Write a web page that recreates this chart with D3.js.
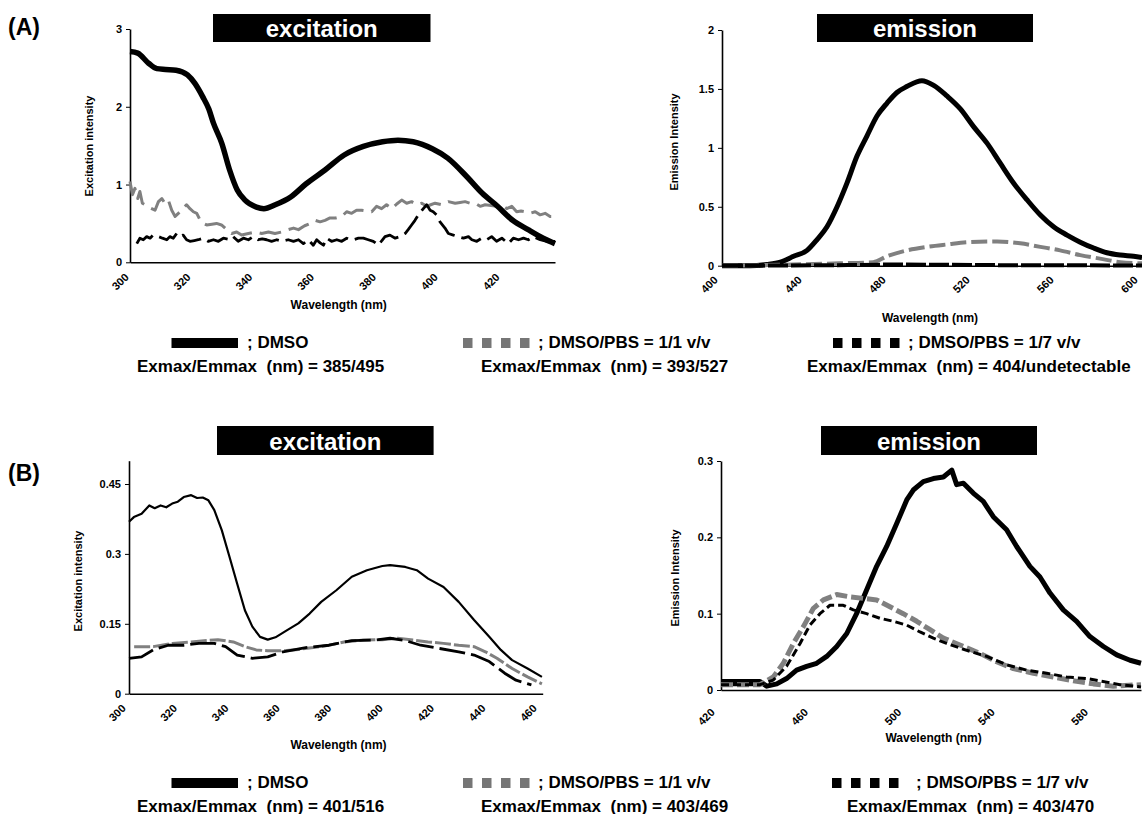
<!DOCTYPE html>
<html>
<head>
<meta charset="utf-8">
<script src="https://cdn.jsdelivr.net/npm/d3@7"></script>
<style>
  body { margin: 0; background: #fff; }
  svg { display: block; font-family: "Liberation Sans", Arial, sans-serif; font-weight: bold; }
</style>
</head>
<body>
<div id="chart"></div>
<script>
// values: [wavelength (nm), intensity]

// (A) excitation
const exA_dmso = [[300,2.71],[302.5,2.69],[306,2.56],[308.7,2.49],[311.5,2.48],[314.9,2.47],[318.6,2.41],[321,2.30],[323.5,2.13],[325.5,1.97],[327,1.79],[329.7,1.53],[332.2,1.19],[334.7,0.93],[337.2,0.80],[340.9,0.71],[343.3,0.69],[347,0.74],[352,0.84],[357,1.01],[363.2,1.19],[369.3,1.38],[375.5,1.49],[381.7,1.55],[386.7,1.57],[391.6,1.55],[397.8,1.46],[402.8,1.34],[409,1.10],[413.9,0.89],[418.9,0.72],[423.8,0.54],[428.8,0.42],[433.7,0.31],[437.5,0.24]];
const exA_pbs11 = [[300,1.04],[300.8,0.87],[301.6,0.95],[302.5,0.82],[303.2,0.91],[304,0.76],[304.9,0.74],[306.5,0.70],[308.1,0.67],[309.2,0.78],[310.3,0.82],[311.3,0.76],[312.4,0.80],[313.5,0.67],[314.6,0.59],[316.5,0.66],[318.3,0.74],[319.4,0.69],[320.5,0.65],[321.6,0.63],[322.7,0.54],[323.7,0.50],[324.8,0.48],[326.5,0.49],[328,0.50],[329.6,0.48],[331.3,0.42],[332.9,0.37],[334.5,0.39],[336.1,0.35],[338.3,0.37],[340.5,0.39],[342.6,0.37],[344.8,0.39],[346.9,0.37],[349.1,0.39],[351.2,0.42],[352.9,0.44],[354.5,0.42],[356.5,0.47],[358.3,0.50],[359.9,0.54],[361.5,0.52],[363.1,0.54],[364.7,0.57],[366.5,0.57],[368.5,0.59],[370.1,0.65],[371.7,0.63],[373.3,0.67],[374.9,0.67],[376.5,0.66],[378.2,0.65],[379.8,0.72],[381.4,0.69],[383,0.74],[384.7,0.69],[386.3,0.75],[387.9,0.80],[389.5,0.76],[391.1,0.78],[392.8,0.74],[394.4,0.76],[396,0.72],[397.3,0.74],[398.7,0.76],[400.8,0.74],[403,0.78],[405.2,0.76],[406.8,0.77],[408.4,0.78],[410,0.76],[411.7,0.76],[413.3,0.72],[414.9,0.74],[416.8,0.73],[418.6,0.72],[420.2,0.74],[421.9,0.69],[423.5,0.72],[425.1,0.65],[426.5,0.66],[427.8,0.65],[429.4,0.63],[431.1,0.65],[432.7,0.61],[434.3,0.63],[435.9,0.59],[437.5,0.59]];
const exA_pbs17 = [[302.2,0.24],[303.2,0.31],[304.3,0.29],[305.4,0.33],[306.5,0.31],[307.5,0.35],[309.2,0.33],[310.5,0.31],[311.9,0.29],[312.9,0.33],[314,0.31],[315.1,0.37],[316.2,0.33],[317.2,0.35],[318.3,0.29],[319.4,0.27],[320.8,0.28],[322.1,0.29],[323.7,0.31],[325.3,0.27],[327,0.29],[328.6,0.27],[330.2,0.31],[332.4,0.29],[333.4,0.33],[335,0.27],[336.7,0.31],[338.3,0.29],[339.9,0.33],[341.5,0.29],[342.8,0.30],[344.2,0.29],[345.8,0.27],[347.5,0.29],[349.1,0.27],[351.2,0.29],[352.9,0.27],[354.5,0.29],[356.1,0.24],[357.7,0.29],[359.3,0.22],[360.4,0.29],[361.5,0.25],[362.6,0.22],[363.6,0.31],[365.2,0.27],[366.9,0.29],[368.5,0.27],[370.1,0.31],[371.2,0.29],[372.3,0.29],[373.9,0.31],[375.5,0.31],[377.1,0.29],[378.7,0.27],[380.4,0.22],[381.5,0.28],[382.5,0.33],[384.1,0.35],[385.8,0.31],[387.4,0.33],[389,0.37],[390,0.42],[391.1,0.48],[392.2,0.54],[393.3,0.61],[394.9,0.69],[396,0.74],[397.1,0.67],[398.1,0.65],[399.2,0.61],[400.3,0.52],[401.9,0.44],[403,0.37],[404.6,0.35],[406.2,0.33],[407.9,0.31],[409.5,0.33],[410.6,0.29],[412.2,0.27],[413.8,0.31],[415.4,0.29],[417,0.33],[418.6,0.27],[420.3,0.31],[422.4,0.24],[424,0.31],[425.7,0.29],[427.3,0.31],[428.9,0.29],[430.5,0.33],[432.7,0.29],[434.8,0.27],[437.5,0.27]];

// (A) emission
const emA_dmso = [[400,0],[413.5,0],[421.4,0.01],[427.8,0.03],[434.1,0.08],[440.5,0.13],[445.2,0.22],[450,0.33],[454.8,0.50],[459.5,0.70],[464.3,0.93],[469,1.10],[473.8,1.27],[478.6,1.38],[483.3,1.47],[488,1.52],[495.2,1.57],[500.8,1.53],[507.1,1.44],[513.5,1.33],[519.8,1.18],[526.2,1.04],[532.5,0.87],[538.9,0.70],[545.2,0.56],[551.6,0.43],[557.9,0.33],[564.3,0.26],[570.6,0.20],[577,0.15],[583.3,0.11],[589.7,0.09],[596,0.08],[600,0.07]];
const emA_pbs11 = [[400,0],[456,0.02],[472,0.03],[478.6,0.08],[488,0.13],[497.6,0.16],[507,0.18],[518,0.20],[531,0.205],[542,0.19],[551.6,0.16],[561,0.13],[570.6,0.09],[580,0.06],[589.7,0.03],[600,0.02]];
const emA_pbs17 = [[400,0],[460,0.005],[480,0.01],[500,0.008],[540,0.004],[600,0.002]];

// (B) excitation
const exB_dmso = [[300,0.369],[301.9,0.379],[304.9,0.386],[307.9,0.404],[310,0.398],[312.3,0.404],[314.5,0.400],[316.8,0.408],[319,0.412],[321.3,0.422],[324.2,0.426],[326.5,0.420],[328.7,0.421],[330.9,0.415],[333.2,0.394],[336.1,0.351],[339.1,0.294],[342.1,0.236],[345.1,0.179],[348,0.144],[351,0.122],[354,0.116],[357,0.121],[361.4,0.136],[365.9,0.151],[370.3,0.172],[374.8,0.197],[380.7,0.222],[386.7,0.251],[392.6,0.265],[398.6,0.274],[401.6,0.276],[407.5,0.272],[412,0.265],[416.4,0.247],[422.4,0.229],[428.3,0.197],[434.3,0.158],[440.2,0.122],[444.7,0.094],[449.1,0.072],[455.1,0.054],[460.7,0.036]];
const exB_pbs11 = [[302,0.101],[309.4,0.101],[316.8,0.108],[324.2,0.111],[330.2,0.114],[334.6,0.116],[340.6,0.111],[345.1,0.101],[349.5,0.094],[354,0.092],[359.9,0.092],[365.9,0.095],[371.8,0.099],[377.8,0.104],[383.7,0.111],[391.2,0.115],[398.6,0.116],[404.5,0.119],[410.5,0.115],[416.4,0.111],[422.4,0.108],[428.3,0.104],[434.3,0.101],[438.7,0.090],[443.2,0.076],[449.1,0.054],[455.1,0.036],[460.7,0.021]];
const exB_pbs17 = [[300,0.076],[304.9,0.079],[309.4,0.094],[315.3,0.104],[321.3,0.104],[327.2,0.108],[333.2,0.108],[337.6,0.101],[342.1,0.083],[348,0.076],[354,0.079],[359.9,0.090],[368.8,0.099],[377.8,0.104],[386.7,0.114],[395.6,0.115],[401.6,0.119],[407.5,0.114],[413.5,0.104],[420.9,0.097],[428.3,0.090],[434.3,0.083],[440.2,0.069],[446.2,0.044],[450.6,0.029],[456.6,0.019]];

// (B) emission
const emB_dmso = [[420,0.011],[436.7,0.011],[439.6,0.005],[443.9,0.008],[448.1,0.015],[452.4,0.026],[456.7,0.031],[461,0.035],[465.3,0.044],[469.6,0.057],[473.9,0.074],[478.1,0.100],[482.4,0.131],[486.7,0.162],[491,0.188],[495.3,0.218],[499.6,0.249],[502.4,0.262],[506.7,0.273],[511,0.277],[515.3,0.279],[518.9,0.288],[521,0.269],[523.9,0.271],[528.1,0.258],[532.4,0.247],[536.7,0.227],[542.4,0.210],[546.7,0.188],[552.4,0.162],[556.7,0.148],[561,0.127],[566.7,0.105],[572.4,0.090],[578.1,0.070],[583.9,0.057],[589.6,0.046],[595.3,0.039],[600,0.035]];
const emB_pbs11 = [[420,0.007],[436.7,0.007],[442.4,0.017],[446.7,0.035],[451,0.061],[455.3,0.083],[459.6,0.107],[463.9,0.118],[469.6,0.125],[475.3,0.122],[481,0.120],[486.7,0.118],[492.4,0.109],[498.1,0.100],[503.9,0.090],[509.6,0.079],[515.3,0.068],[522.4,0.059],[531,0.048],[538.1,0.037],[545.3,0.028],[553.9,0.022],[562.4,0.017],[571,0.012],[579.6,0.008],[588.1,0.005],[600,0.007]];
const emB_pbs17 = [[420,0.007],[436.7,0.007],[442.4,0.013],[448.1,0.031],[453.9,0.061],[458.1,0.085],[462.4,0.100],[466.7,0.111],[472.4,0.111],[476.7,0.105],[482.4,0.100],[488.1,0.094],[493.9,0.090],[499.6,0.085],[505.3,0.076],[511,0.068],[516.7,0.061],[525.3,0.052],[533.9,0.044],[542.4,0.033],[551,0.026],[559.6,0.022],[568.1,0.017],[576.7,0.015],[582.4,0.012],[591,0.007],[600,0.004]];

// tick labels
const exA_xTicks = [300, 320, 340, 360, 380, 400, 420];
const exA_yTicks = [0, 1, 2, 3];
const emA_xTicks = [400, 440, 480, 520, 560, 600];
const emA_yTicks = [0, 0.5, 1, 1.5, 2];
const exB_xTicks = [300, 320, 340, 360, 380, 400, 420, 440, 460];
const exB_yTicks = [0, 0.15, 0.3, 0.45];
const emB_xTicks = [420, 460, 500, 540, 580];
const emB_yTicks = [0, 0.1, 0.2, 0.3];

// legend texts
const legendNames = ['; DMSO', '; DMSO/PBS = 1/1 v/v', '; DMSO/PBS = 1/7 v/v'];
const maxA = ['385/495', '393/527', '404/undetectable'];
const maxB = ['401/516', '403/469', '403/470'];

const GRAY = '#808080';

const svg = d3.select('#chart')
  .append('svg')
    .attr('width', 1142)
    .attr('height', 814);

const panels = [
  { xRange: [130, 555], yRange: [262.3, 29], xDomain: [300, 437.5], yDomain: [0, 3],
    xTicks: exA_xTicks, yTicks: exA_yTicks, xOff: -1, xDy: 15.5,
    title: 'excitation', box: [213, 14, 217.5, 28], titleY: 37,
    yLabel: 'Excitation intensity', yLabelPos: [93, 146], xLabelPos: [338.7, 309],
    series: [
      { data: exA_pbs11, color: GRAY, width: 3, dash: '22,8' },
      { data: exA_pbs17, color: '#000', width: 2.8, dash: '22,7' },
      { data: exA_dmso, color: '#000', width: 5.5, smooth: true }
    ] },
  { xRange: [722, 1142], yRange: [265.7, 30], xDomain: [400, 600], yDomain: [0, 2],
    xTicks: emA_xTicks, yTicks: emA_yTicks, xOff: -4, xDy: 15,
    title: 'emission', box: [817, 14, 216, 28], titleY: 37,
    yLabel: 'Emission Intensity', yLabelPos: [678, 142], xLabelPos: [930, 322],
    series: [
      { data: emA_dmso, color: '#000', width: 5, smooth: true },
      { data: emA_pbs11, color: GRAY, width: 4, dash: '16,5', smooth: true },
      { data: emA_pbs17, color: '#000', width: 4, dash: '20,3' }
    ] },
  { xRange: [129, 542.7], yRange: [693.7, 460.7], xDomain: [300, 461], yDomain: [0, 0.5],
    xTicks: exB_xTicks, yTicks: exB_yTicks, xOff: -3, xDy: 15.3,
    title: 'excitation', box: [217, 426, 216.6, 29], titleY: 449.5,
    yLabel: 'Excitation intensity', yLabelPos: [81.5, 581], xLabelPos: [338.5, 749],
    series: [
      { data: exB_pbs11, color: GRAY, width: 3, dash: '16,3' },
      { data: exB_pbs17, color: '#000', width: 2.8, dash: '26,6' },
      { data: exB_dmso, color: '#000', width: 2.2 }
    ] },
  { xRange: [721, 1141], yRange: [690, 461], xDomain: [420, 600], yDomain: [0, 0.3],
    xTicks: emB_xTicks, yTicks: emB_yTicks, xOff: -6, xDy: 23,
    title: 'emission', box: [821, 426, 216, 29], titleY: 449.5,
    yLabel: 'Emission Intensity', yLabelPos: [679, 578], xLabelPos: [933.6, 742],
    series: [
      { data: emB_dmso, color: '#000', width: 5 },
      { data: emB_pbs11, color: GRAY, width: 5, dash: '12,4' },
      { data: emB_pbs17, color: '#000', width: 3, dash: '8,4' }
    ] }
];

const drawPanel = (p) => {
  const x = d3.scaleLinear().domain(p.xDomain).range(p.xRange);
  const y = d3.scaleLinear().domain(p.yDomain).range(p.yRange);
  const g = svg.append('g');

  // black title box
  g.append('rect')
    .attr('x', p.box[0])
    .attr('y', p.box[1])
    .attr('width', p.box[2])
    .attr('height', p.box[3])
    .attr('fill', '#000');
  g.append('text')
    .text(p.title)
    .attr('x', p.box[0] + p.box[2] / 2)
    .attr('y', p.titleY)
    .attr('text-anchor', 'middle')
    .attr('fill', '#fff')
    .style('font-size', '24px');

  // y axis
  const yAxis = g.append('g')
    .attr('transform', `translate(${p.xRange[0]},0)`)
    .call(d3.axisLeft(y)
      .tickValues(p.yTicks)
      .tickFormat(d => String(d))
      .tickSize(4)
      .tickSizeOuter(0)
      .tickPadding(4));

  // x axis; labels are re-made inside a rotated group
  const xAxis = g.append('g')
    .attr('transform', `translate(0,${p.yRange[0]})`)
    .call(d3.axisBottom(x)
      .tickValues(p.xTicks)
      .tickSize(0)
      .tickSizeOuter(0));
  xAxis.selectAll('.tick text').remove();
  xAxis.selectAll('.tick')
    .append('g')
      .attr('transform', `translate(${p.xOff},${p.xDy}) rotate(-45)`)
    .append('text')
      .text(d => d)
      .attr('text-anchor', 'end')
      .attr('fill', '#000');

  [yAxis, xAxis].forEach(a => {
    a.attr('font-family', null).attr('font-size', null);
    a.select('.domain').attr('stroke-width', 1.6);
    a.selectAll('text').style('font-size', '11px').attr('fill', '#000');
  });

  // axis titles
  g.append('text')
    .text(p.yLabel)
    .attr('transform', `translate(${p.yLabelPos[0]},${p.yLabelPos[1]}) rotate(-90)`)
    .attr('text-anchor', 'middle')
    .style('font-size', '11px');
  g.append('text')
    .text('Wavelength (nm)')
    .attr('x', p.xLabelPos[0])
    .attr('y', p.xLabelPos[1])
    .attr('text-anchor', 'middle')
    .style('font-size', '12px');

  // spectra
  p.series.forEach(s => {
    const line = d3.line()
      .x(d => x(d[0]))
      .y(d => y(d[1]))
      .curve(s.smooth ? d3.curveMonotoneX : d3.curveLinear);
    g.append('path')
      .datum(s.data)
      .attr('d', line)
      .attr('fill', 'none')
      .attr('stroke', s.color)
      .attr('stroke-width', s.width)
      .attr('stroke-dasharray', s.dash || null)
      .attr('stroke-linejoin', 'round');
  });
};

panels.forEach(drawPanel);

// panel letters
svg.append('text').text('(A)').attr('x', 8).attr('y', 35).style('font-size', '23px');
svg.append('text').text('(B)').attr('x', 8).attr('y', 481).style('font-size', '23px');

// legends under each row
const legendRows = [
  { top: 338, maxes: maxA, exX: [137, 481, 807], nameX: [247, 538, 908], sqX: [463, 833] },
  { top: 778, maxes: maxB, exX: [137, 481, 847], nameX: [247, 538, 916], sqX: [463, 832] }
];

legendRows.forEach(r => {
  const lg = svg.append('g');
  lg.append('rect')
    .attr('x', 171.5).attr('y', r.top)
    .attr('width', 66.5).attr('height', 10)
    .attr('fill', '#000');
  [GRAY, '#000'].forEach((c, i) => {
    lg.selectAll(null)
      .data([0, 1, 2, 3])
      .join('rect')
        .attr('x', d => r.sqX[i] + d * 19)
        .attr('y', r.top)
        .attr('width', 9.5)
        .attr('height', 10)
        .attr('fill', c === GRAY ? '#767676' : '#000');
  });
  legendNames.forEach((name, i) => {
    lg.append('text')
      .text(name)
      .attr('x', r.nameX[i])
      .attr('y', r.top + 10)
      .style('font-size', '17px');
    lg.append('text')
      .text(`Exmax/Emmax  (nm) = ${r.maxes[i]}`)
      .attr('x', r.exX[i])
      .attr('y', r.top + 33.5)
      .style('font-size', '17px')
      .style('white-space', 'pre');
  });
});
</script>
</body>
</html>
